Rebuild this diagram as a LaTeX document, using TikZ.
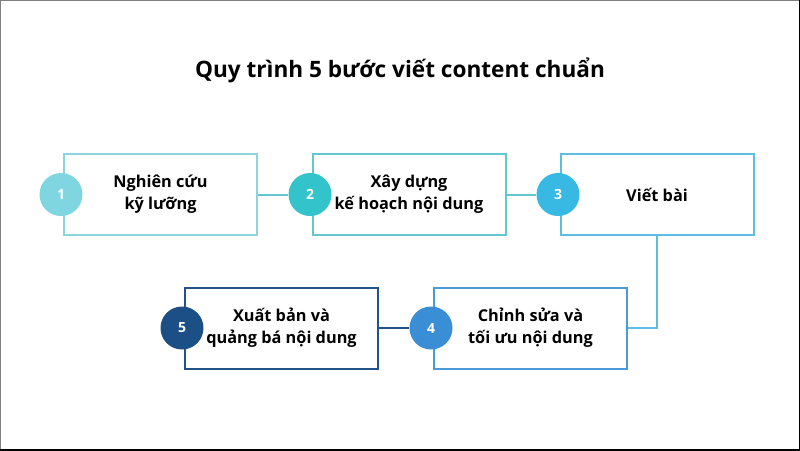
\documentclass[tikz,border=0pt]{standalone}
\usepackage{fontspec}
\setmainfont{Open Sans}
\definecolor{buocmot}{HTML}{7FD6E0}
\definecolor{buochai}{HTML}{33C3CB}
\definecolor{buocba}{HTML}{38B9E3}
\definecolor{buocbon}{HTML}{3A8ED6}
\definecolor{buocnam}{HTML}{1B4F86}
\definecolor{viennmot}{HTML}{8BD5DC}
\definecolor{viennhai}{HTML}{62C8CD}
\definecolor{viennba}{HTML}{5DBEE2}
\definecolor{viennbon}{HTML}{4B9AD8}
\definecolor{viennnam}{HTML}{21538A}
\begin{document}
\begin{tikzpicture}[x=1pt, y=-1pt,
    box/.style={draw, line width=2pt, fill=white, minimum width=193pt, minimum height=81pt, align=center, font=\fontsize{16.3}{22}\selectfont\bfseries},
    num/.style={circle, minimum size=43pt, inner sep=0pt, text=white, font=\fontsize{14}{16}\selectfont\bfseries},
    link/.style={line width=2pt}]
    \useasboundingbox (0,0) rectangle (800,450);
    \fill[white] (0,0) rectangle (800,450);
    \draw[gray, line width=2pt] (0,450) -- (0,0) -- (800,0);
    \draw[black, line width=3pt] (800,0) -- (800,450) -- (0,450);

    \node[font=\fontsize{22.6}{26}\selectfont\bfseries] (tieude) at (400,70) {Quy trình 5 bước viết content chuẩn};

    \node[box, draw=viennmot] (nghiencuu) at (160.5,194.5) {Nghiên cứu\\kỹ lưỡng};
    \node[box, draw=viennhai] (xaydung) at (409,194.5) {Xây dựng\\kế hoạch nội dung};
    \node[box, draw=viennba] (vietbai) at (657,194.5) {Viết bài};
    \node[box, draw=viennbon] (chinhsua) at (530.5,328) {Chỉnh sửa và\\tối ưu nội dung};
    \node[box, draw=viennnam] (xuatban) at (281.5,328) {Xuất bản và\\quảng bá nội dung};

    \node[num, fill=buocmot] (so1) at (61,194.5) {1};
    \node[num, fill=buochai] (so2) at (310,194.5) {2};
    \node[num, fill=buocba] (so3) at (558,194.5) {3};
    \node[num, fill=buocbon] (so4) at (431,328) {4};
    \node[num, fill=buocnam] (so5) at (182,328) {5};

    \draw[link, viennhai] (nghiencuu.east) -- (so2.west);
    \draw[link, viennhai] (xaydung.east) -- (so3.west);
    \draw[link, viennba] (vietbai.south) |- (chinhsua.east);
    \draw[link, viennnam] (xuatban.east) -- (so4.west);
\end{tikzpicture}
\end{document}
